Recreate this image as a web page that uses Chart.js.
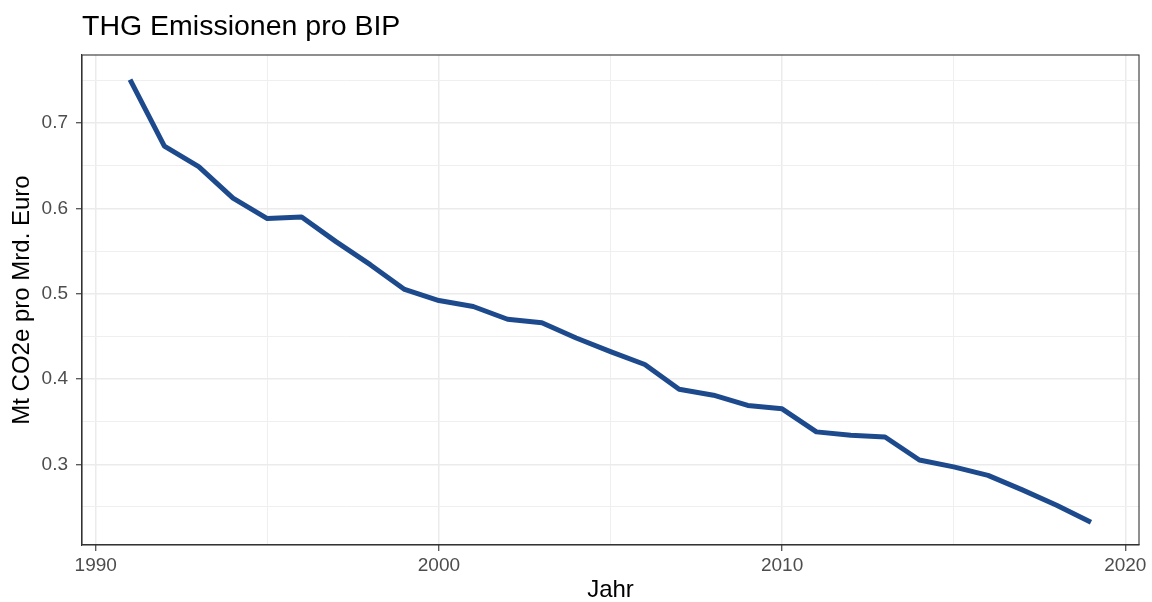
<!DOCTYPE html>
<html>
<head>
<meta charset="utf-8">
<script src="https://cdn.jsdelivr.net/npm/chart.js@4.4.1/dist/chart.umd.min.js"></script>
<style>
  html, body { margin: 0; padding: 0; background: #fff; }
  #wrap { width: 1152px; height: 602px; position: relative; }
</style>
</head>
<body>
<div id="wrap"><canvas id="thgChart"></canvas></div>
<script>
// data
const years = [1991, 1992, 1993, 1994, 1995, 1996, 1997, 1998, 1999, 2000,
  2001, 2002, 2003, 2004, 2005, 2006, 2007, 2008, 2009, 2010,
  2011, 2012, 2013, 2014, 2015, 2016, 2017, 2018, 2019];
const emissionsPerGdp = [0.751, 0.673, 0.649, 0.612, 0.588, 0.590, 0.561, 0.534, 0.505, 0.492,
  0.485, 0.470, 0.466, 0.448, 0.432, 0.417, 0.388, 0.381, 0.369, 0.365,
  0.338, 0.334, 0.332, 0.305, 0.297, 0.287, 0.270, 0.252, 0.232];

// axis ticks
const xMajorTicks = [1990, 2000, 2010, 2020];
const xMinorTicks = [1995, 2005, 2015];
const yMajorTicks = [0.3, 0.4, 0.5, 0.6, 0.7];
const yMinorTicks = [0.25, 0.35, 0.45, 0.55, 0.65, 0.75];

const titleText = "THG Emissionen pro BIP";
const xTitle = "Jahr";
const yTitle = "Mt CO2e pro Mrd. Euro";

const FONT = "'Liberation Sans', Arial, Helvetica, sans-serif";
const isMajor = (list, v) => list.some(t => Math.abs(t - v) < 1e-9);

// panel border + title, ggplot theme_bw style
const panelPlugin = {
  id: "panel",
  afterDraw(chart) {
    const { ctx, chartArea: a } = chart;
    ctx.save();
    ctx.strokeStyle = "#333333";
    ctx.lineWidth = 1.1;
    ctx.strokeRect(a.left, a.top, a.right - a.left, a.bottom - a.top);
    ctx.fillStyle = "#000";
    ctx.font = "28.5px " + FONT;
    ctx.textAlign = "left";
    ctx.textBaseline = "alphabetic";
    ctx.fillText(titleText, a.left, 35);
    ctx.restore();
  }
};

const ctx = document.getElementById("thgChart").getContext("2d");

new Chart(ctx, {
  type: "line",
  data: {
    datasets: [{
      data: years.map((y, i) => ({ x: y, y: emissionsPerGdp[i] })),
      borderColor: "#1d4a8d",
      borderWidth: 5,
      borderCapStyle: "butt",
      borderJoinStyle: "round",
      pointRadius: 0,
      tension: 0,
      fill: false
    }]
  },
  options: {
    responsive: true,
    maintainAspectRatio: false,
    animation: false,
    layout: { padding: { top: 55, right: 13, left: 0, bottom: 0 } },
    plugins: {
      legend: { display: false },
      tooltip: { enabled: false },
      title: { display: false }
    },
    scales: {
      x: {
        type: "linear",
        min: 1989.6,
        max: 2020.4,
        afterBuildTicks: (scale) => {
          scale.ticks = [...xMajorTicks, ...xMinorTicks].sort((a, b) => a - b).map(v => ({ value: v }));
        },
        afterFit: (scale) => { scale.height = 57; },
        ticks: {
          autoSkip: false,
          maxRotation: 0,
          padding: 3,
          color: "#4d4d4d",
          font: { family: FONT, size: 19 },
          callback: (v) => isMajor(xMajorTicks, v) ? String(v) : ""
        },
        grid: {
          color: (c) => isMajor(xMajorTicks, c.tick.value) ? "#ebebeb" : "#efefef",
          lineWidth: (c) => isMajor(xMajorTicks, c.tick.value) ? 1.5 : 1,
          tickColor: (c) => isMajor(xMajorTicks, c.tick.value) ? "#333333" : "rgba(0,0,0,0)",
          tickWidth: 1.1,
          tickLength: 6
        },
        border: { display: true, color: "#333333", width: 1.1 },
        title: {
          display: true,
          text: xTitle,
          color: "#000",
          font: { family: FONT, size: 24, lineHeight: 1 },
          padding: { top: 0, bottom: 0 }
        }
      },
      y: {
        type: "linear",
        min: 0.2054,
        max: 0.7798,
        afterBuildTicks: (scale) => {
          scale.ticks = [...yMajorTicks, ...yMinorTicks].sort((a, b) => a - b).map(v => ({ value: v }));
        },
        afterFit: (scale) => { scale.width = 82; },
        ticks: {
          autoSkip: false,
          padding: 8,
          color: "#4d4d4d",
          font: { family: FONT, size: 19 },
          callback: (v) => isMajor(yMajorTicks, v) ? v.toFixed(1) : ""
        },
        grid: {
          color: (c) => isMajor(yMajorTicks, c.tick.value) ? "#ebebeb" : "#efefef",
          lineWidth: (c) => isMajor(yMajorTicks, c.tick.value) ? 1.5 : 1,
          tickColor: (c) => isMajor(yMajorTicks, c.tick.value) ? "#333333" : "rgba(0,0,0,0)",
          tickWidth: 1.1,
          tickLength: 6
        },
        border: { display: true, color: "#333333", width: 1.1 },
        title: {
          display: true,
          text: yTitle,
          color: "#000",
          font: { family: FONT, size: 24, lineHeight: 1.2 },
          padding: { top: 8, bottom: 0 }
        }
      }
    }
  },
  plugins: [panelPlugin]
});
</script>
</body>
</html>
